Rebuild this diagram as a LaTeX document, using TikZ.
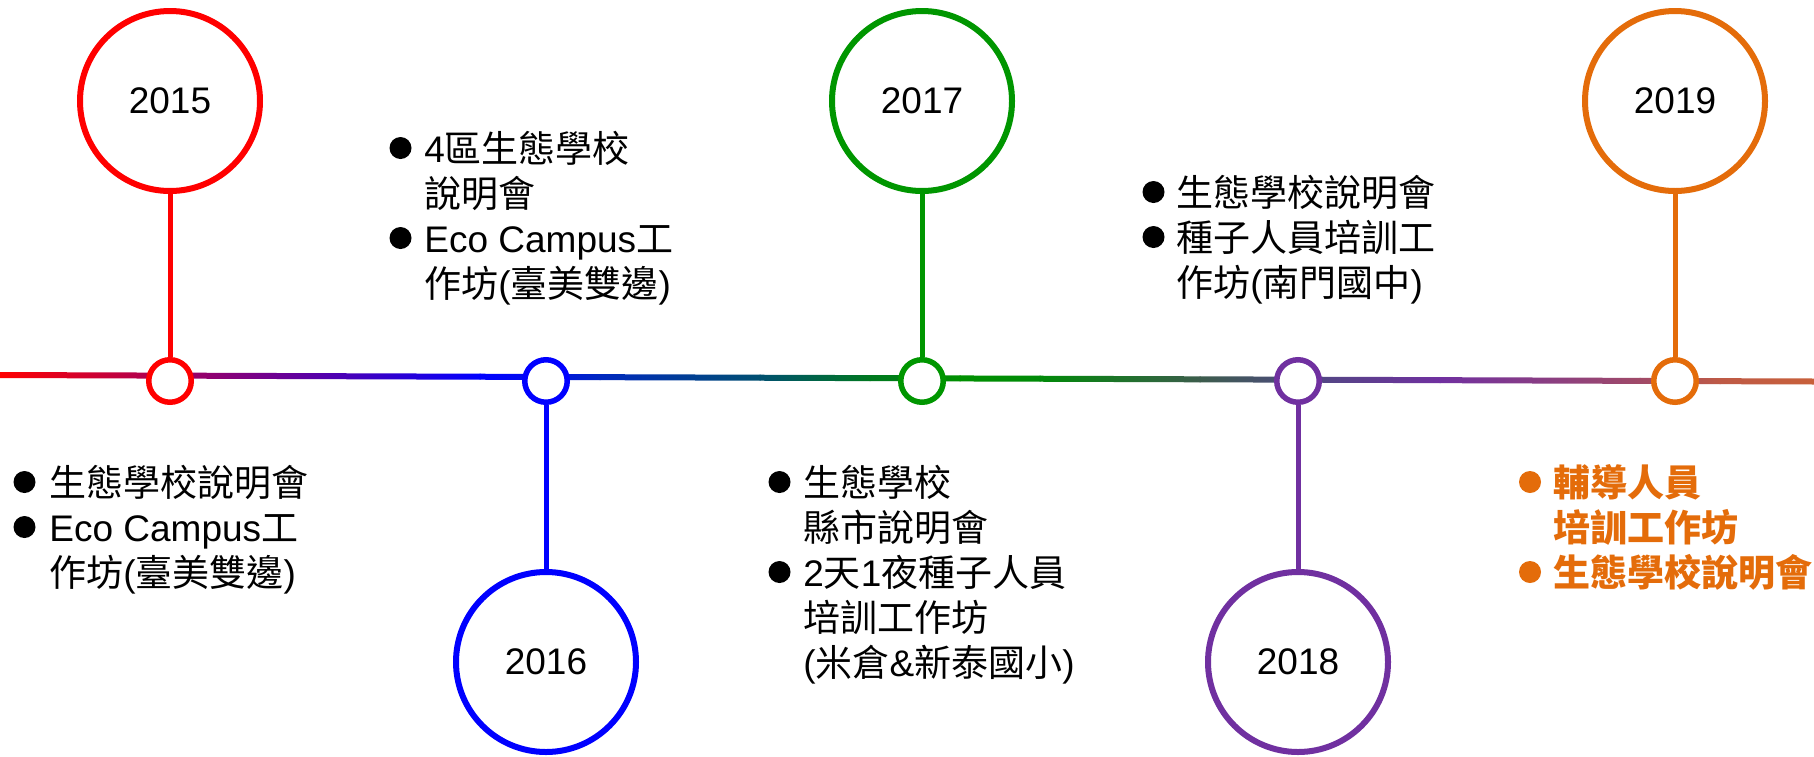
\documentclass[tikz,border=0pt]{standalone}
\usepackage{fontspec}
\setmainfont{Liberation Sans}
\newfontfamily\cjk{Noto Sans CJK TC}
\newcommand\C[1]{{\cjk #1}}
\newcommand\rowsblock[1]{\vtop{\baselineskip=22.5pt\lineskiplimit=-30pt\lineskip=0pt\halign{##\hfil\cr#1\crcr}}}
\definecolor{cred}{HTML}{FF0000}
\definecolor{cblue}{HTML}{0000FF}
\definecolor{cgreen}{HTML}{009600}
\definecolor{cpurple}{HTML}{7030A0}
\definecolor{corange}{HTML}{E46C0A}
\definecolor{g0}{HTML}{FF0000}
\definecolor{g1}{HTML}{0000FF}
\definecolor{g2}{HTML}{0010E8}
\definecolor{g3}{HTML}{0028C0}
\definecolor{g4}{HTML}{005070}
\definecolor{g5}{HTML}{007820}
\definecolor{g6}{HTML}{009000}
\definecolor{g7}{HTML}{008A08}
\definecolor{g8}{HTML}{3C5C4C}
\definecolor{g9}{HTML}{4E4A80}
\definecolor{g10}{HTML}{7030A0}
\definecolor{g11}{HTML}{A04A68}
\definecolor{g12}{HTML}{BE5A46}
\definecolor{g13}{HTML}{C8603A}
\tikzset{
  yearc/.style={circle,draw=#1,line width=3pt,fill=white,minimum size=90pt,inner sep=0pt,
    font=\fontsize{18.5}{22.5}\selectfont},
  dotc/.style={circle,draw=#1,line width=2.75pt,fill=white,minimum size=21.25pt,inner sep=0pt},
  stem/.style={draw=#1,line width=2.5pt},
  txt/.style={anchor=base west,inner sep=0pt,font=\fontsize{18.5}{22.5}\selectfont},
  bul/.style={fill=#1},
}
\begin{document}
\begin{tikzpicture}[x=0.5pt,y=-0.5pt]
\fill[white] (0,0) rectangle (1814,756);
\useasboundingbox (0,0) rectangle (1814,756);
% gradient timeline
\foreach \xa/\ca/\xb/\cb in {0/g0/480/g1,480/g1/546/g2,546/g2/600/g3,600/g3/760/g4,760/g4/870/g5,870/g5/960/g6,960/g6/1040/g7,1040/g7/1200/g8,1200/g8/1300/g9,1300/g9/1440/g10,1440/g10/1640/g11,1640/g11/1720/g12,1720/g12/1814/g13}
{
  \shade[left color=\ca,right color=\cb]
    ({\xa-0.5},{375+6.5*\xa/1814-3}) -- ({\xb+0.5},{375+6.5*\xb/1814-3}) --
    ({\xb+0.5},{375+6.5*\xb/1814+3}) -- ({\xa-0.5},{375+6.5*\xa/1814+3}) -- cycle;
}
% year circles and timeline dots
\node[yearc=cred]    (b15) at (170,101) {2015};
\node[dotc=cred]     (s15) at (170,381) {};
\node[dotc=cblue]    (s16) at (546,381) {};
\node[yearc=cblue]   (b16) at (546,662) {2016};
\node[yearc=cgreen]  (b17) at (922,101) {2017};
\node[dotc=cgreen]   (s17) at (922,381) {};
\node[dotc=cpurple]  (s18) at (1298,381) {};
\node[yearc=cpurple] (b18) at (1298,662) {2018};
\node[yearc=corange] (b19) at (1675,101) {2019};
\node[dotc=corange]  (s19) at (1675,381) {};
% stems
\draw[stem=cred]    (b15) -- (s15);
\draw[stem=cblue]   (s16) -- (b16);
\draw[stem=cgreen]  (b17) -- (s17);
\draw[stem=cpurple] (s18) -- (b18);
\draw[stem=corange] (b19) -- (s19);
% text blocks
\node[txt] (t15) at (49,496) {\rowsblock{\C{生態學校說明會}\cr Eco Campus\C{工}\cr \C{作坊}(\C{臺美雙邊})}};
\node[txt] (t16) at (424,162) {\rowsblock{4\C{區生態學校}\cr \C{說明會}\cr Eco Campus\C{工}\cr \C{作坊}(\C{臺美雙邊})}};
\node[txt] (t17) at (803,496) {\rowsblock{\C{生態學校}\cr \C{縣市說明會}\cr 2\C{天}1\C{夜種子人員}\cr \C{培訓工作坊}\cr (\C{米倉}\&\C{新泰國小})}};
\node[txt] (t18) at (1176,206) {\rowsblock{\C{生態學校說明會}\cr \C{種子人員培訓工}\cr \C{作坊}(\C{南門國中})}};
\node[txt,text=corange,font=\fontsize{18.5}{22.5}\selectfont\bfseries] (t19) at (1553,496) {\rowsblock{\C{輔導人員}\cr \C{培訓工作坊}\cr \C{生態學校說明會}}};
% bullets
\fill[bul=black] (t15.base west) ++(-24.5,-14) circle (5.5pt);
\fill[bul=black] (t15.base west) ++(-24.5,31) circle (5.5pt);
\fill[bul=black] (t16.base west) ++(-23.5,-14) circle (5.5pt);
\fill[bul=black] (t16.base west) ++(-23.5,76) circle (5.5pt);
\fill[bul=black] (t17.base west) ++(-23.5,-14) circle (5.5pt);
\fill[bul=black] (t17.base west) ++(-23.5,76) circle (5.5pt);
\fill[bul=black] (t18.base west) ++(-22.5,-14) circle (5.5pt);
\fill[bul=black] (t18.base west) ++(-22.5,31) circle (5.5pt);
\fill[bul=corange] (t19.base west) ++(-23,-14) circle (5.5pt);
\fill[bul=corange] (t19.base west) ++(-23,76) circle (5.5pt);
\end{tikzpicture}
\end{document}
